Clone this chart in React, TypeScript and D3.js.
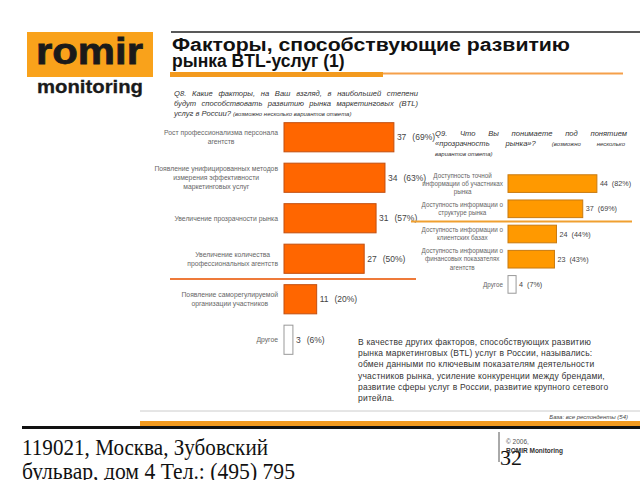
import * as d3 from 'd3';
import React from 'react';

// Q8 - factors (left chart)
const q8Labels = [
  'Рост профессионализма персонала\nагентств',
  'Появление унифицированных методов\nизмерения эффективности\nмаркетинговых услуг',
  'Увеличение прозрачности рынка',
  'Увеличение количества\nпрофессиональных агентств',
  'Появление саморегулируемой\nорганизации участников',
  'Другое',
];
const q8Counts = [37, 34, 31, 27, 11, 3];
const q8Pct = [69, 63, 57, 50, 20, 6];

// Q9 - market transparency (right chart)
const q9Labels = [
  'Доступность точной\nинформации об участниках\nрынка',
  'Доступность информации о\nструктуре рынка',
  'Доступность информации о\nклиентских базах',
  'Доступность информации о\nфинансовых показателях\nагентств',
  'Другое',
];
const q9Counts = [44, 37, 24, 23, 4];
const q9Pct = [82, 69, 44, 43, 7];

const noteLines = [
  'В качестве других факторов, способствующих развитию',
  'рынка маркетинговых (BTL) услуг в России, назывались:',
  'обмен данными по ключевым показателям деятельности',
  'участников рынка, усиление конкуренции между брендами,',
  'развитие сферы услуг в России, развитие крупного сетевого',
  'ритейла.',
];

const FONT = 'Arial, "Liberation Sans", sans-serif';

// text width via canvas
const ctx = document.createElement('canvas').getContext('2d') as CanvasRenderingContext2D;
const measure = (s: string, size: number, style = '') => {
  ctx.font = `${style} ${size}px "Liberation Sans", Arial, sans-serif`;
  return ctx.measureText(s).width;
};

// word-justified line: words = [text, size][]
const Justified = ({ x, y, width, words }: { x: number; y: number; width: number; words: [string, number][] }) => {
  const ws = words.map(([w, s]) => measure(w, s, 'italic'));
  const gap = (width - d3.sum(ws)) / Math.max(1, words.length - 1);
  let cx = x;
  return (
    <g>
      {words.map(([w, s], i) => {
        const px = cx;
        cx += ws[i] + gap;
        return (
          <text key={i} x={px} y={y} fontSize={s}>
            {w}
          </text>
        );
      })}
    </g>
  );
};

const split = (s: string, size: number): [string, number][] => s.split(' ').map((w) => [w, size]);

type BarsProps = {
  labels: string[];
  counts: number[];
  pct: number[];
  x0: number;
  pxPerUnit: number;
  top: number;
  bottom: number;
  padding: number;
  fill: string;
  stroke: string;
  labelRight: number;
  labelSize: number;
  valueSize: number;
  pctGap: number;
  sepAfter: number;
  sepX: [number, number];
  sepColor: string;
};

const Bars = (p: BarsProps) => {
  const x = d3.scaleLinear().domain([0, 1]).range([p.x0, p.x0 + p.pxPerUnit]);
  const y = d3
    .scaleBand<number>()
    .domain(p.labels.map((_, i) => i))
    .range([p.top, p.bottom])
    .paddingInner(p.padding)
    .paddingOuter(p.padding / 2);
  const bw = y.bandwidth();
  const sepY = ((y(p.sepAfter) as number) + bw + (y(p.sepAfter + 1) as number)) / 2;
  return (
    <g>
      {p.labels.map((lab, i) => {
        const lines = lab.split('\n');
        const w = d3.max(lines, (l) => measure(l, p.labelSize)) as number;
        const cx = p.labelRight - w / 2;
        const cy = (y(i) as number) + bw / 2;
        const lh = p.labelSize * 1.3;
        const isOther = i === p.labels.length - 1;
        const end = x(p.counts[i]);
        const numW = measure(String(p.counts[i]), p.valueSize);
        return (
          <g key={i}>
            {lines.map((l, j) => (
              <text
                key={j}
                x={cx}
                y={cy + (j - (lines.length - 1) / 2) * lh + p.labelSize * 0.35}
                textAnchor="middle"
                fontSize={p.labelSize}
                fill="#666"
              >
                {l}
              </text>
            ))}
            <rect
              x={x(0)}
              y={y(i)}
              width={end - x(0)}
              height={bw}
              fill={isOther ? '#fff' : p.fill}
              stroke={isOther ? '#999' : p.stroke}
              strokeWidth={1}
            />
            <text x={end + 3} y={cy + p.valueSize * 0.35} fontSize={p.valueSize} fill="#444">
              {p.counts[i]}
            </text>
            <text x={end + 3 + numW + p.pctGap} y={cy + p.valueSize * 0.35} fontSize={p.valueSize} fill="#444">
              ({p.pct[i]}%)
            </text>
          </g>
        );
      })}
      <line x1={p.sepX[0]} x2={p.sepX[1]} y1={sepY} y2={sepY} stroke={p.sepColor} strokeWidth={2} />
    </g>
  );
};

const App = () => {
  return (
    <svg
      width={640}
      height={480}
      style={{ position: 'absolute', left: 0, top: 0, background: '#fff' }}
      fontFamily={FONT}
    >
      <rect x={0} y={0} width={640} height={480} fill="#fff" />

      {/* logo */}
      <rect x={27} y={32} width={126} height={45} fill="#F9A21B" />
      <text x={36} y={64} fontSize={37} fontWeight="bold" fill="#1a1a1a" textLength={107} lengthAdjust="spacingAndGlyphs" stroke="#1a1a1a" strokeWidth={0.8}>
        romir
      </text>
      <text x={37} y={93} fontSize={19} fontWeight="bold" fill="#1a1a1a" textLength={106} lengthAdjust="spacingAndGlyphs" stroke="#1a1a1a" strokeWidth={0.3}>
        monitoring
      </text>

      {/* title */}
      <line x1={171} x2={640} y1={32} y2={32} stroke="#222" strokeWidth={1.5} />
      <text x={172} y={51} fontSize={17.5} fontWeight="bold" fill="#111" textLength={398} lengthAdjust="spacingAndGlyphs">
        Факторы, способствующие развитию
      </text>
      <text x={172} y={67} fontSize={17.5} fontWeight="bold" fill="#111">
        рынка BTL-услуг (1)
      </text>
      <line x1={383} x2={623} y1={73.5} y2={73.5} stroke="#F5A04A" strokeWidth={2} />
      <rect x={170} y={72} width={213} height={5} fill="#F39A1E" />

      {/* Q8 question */}
      <g fontStyle="italic" fill="#333">
        <Justified x={174} y={96} width={244} words={split('Q8. Какие факторы, на Ваш взгляд, в наибольшей степени', 7.6)} />
        <Justified x={174} y={106} width={244} words={split('будут способствовать развитию рынка маркетинговых (BTL)', 7.6)} />
        <text x={174} y={116} fontSize={7.6}>
          услуг в России? <tspan fontSize={6}>(возможно несколько вариантов ответа)</tspan>
        </text>
      </g>

      {/* Q9 question */}
      <g fontStyle="italic" fill="#333">
        <Justified x={435} y={136} width={192} words={split('Q9. Что Вы понимаете под понятием', 7.6)} />
        <Justified
          x={435}
          y={146}
          width={190}
          words={[...split('«прозрачность рынка»?', 7.6), ...split('(возможно несколько', 6)]}
        />
        <text x={435} y={156} fontSize={6}>
          вариантов ответа)
        </text>
      </g>

      <Bars
        labels={q8Labels}
        counts={q8Counts}
        pct={q8Pct}
        x0={284}
        pxPerUnit={2.97}
        top={117}
        bottom={360}
        padding={0.28}
        fill="#FF6600"
        stroke="#C24F10"
        labelRight={278}
        labelSize={6.8}
        valueSize={8.5}
        pctGap={6}
        sepAfter={3}
        sepX={[170, 416]}
        sepColor="#EE7A3A"
      />

      <Bars
        labels={q9Labels}
        counts={q9Counts}
        pct={q9Pct}
        x0={508}
        pxPerUnit={2.02}
        top={171}
        bottom={297}
        padding={0.3}
        fill="#FF9900"
        stroke="#C87A10"
        labelRight={503}
        labelSize={6.3}
        valueSize={7.2}
        pctGap={4}
        sepAfter={1}
        sepX={[411, 632]}
        sepColor="#F0A030"
      />

      {/* note */}
      <g fontSize={8.5} fill="#333" letterSpacing={0.2}>
        {noteLines.map((l, i) => (
          <text key={i} x={358} y={345 + i * 11.2}>
            {l}
          </text>
        ))}
      </g>

      {/* footer */}
      <line x1={140} x2={640} y1={411} y2={411} stroke="#ccc" strokeWidth={1} />
      <text x={628} y={419} fontSize={6} fontStyle="italic" fill="#444" textAnchor="end">
        База: все респонденты (54)
      </text>
      <rect x={140} y={421} width={500} height={5} fill="#F39A1E" />
      <rect x={22} y={426} width={618} height={3} fill="#111" />

      <g fontFamily='"Liberation Serif", serif' fill="#111">
        <text x={22} y={455} fontSize={23} textLength={246} lengthAdjust="spacingAndGlyphs">
          119021, Москва, Зубовский
        </text>
        <text x={22} y={479} fontSize={23} textLength={273} lengthAdjust="spacingAndGlyphs">
          бульвар, дом 4 Тел.: (495) 795
        </text>
        <text x={500} y={465} fontSize={22}>
          32
        </text>
      </g>
      <line x1={499} x2={499} y1={432} y2={462} stroke="#555" strokeWidth={1} />
      <text x={506} y={444} fontSize={6.5} fill="#555">
        © 2006,
      </text>
      <text x={506} y={453} fontSize={6.5} fontWeight="bold" fill="#333">
        ROMIR Monitoring
      </text>
    </svg>
  );
};

export default App;
